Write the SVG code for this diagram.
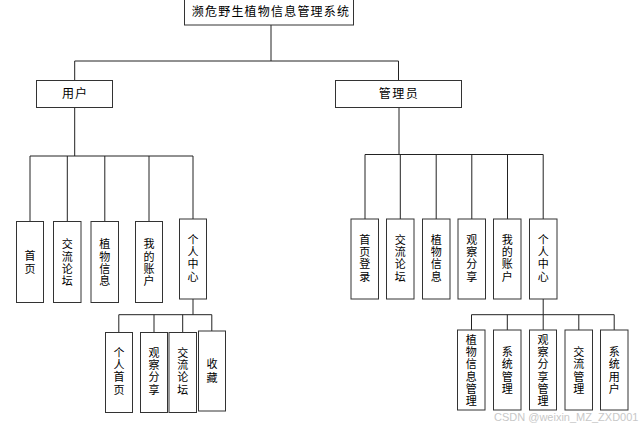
<svg xmlns="http://www.w3.org/2000/svg" width="641" height="428" viewBox="0 0 641 428">
<style>
.box{fill:#fff;stroke:#333;stroke-width:1}
.ln{fill:none;stroke:#222;stroke-width:1}
text{font-family:"Noto Sans CJK SC","Liberation Sans",sans-serif;font-size:12px;fill:#000;text-anchor:middle}
.v{font-size:11px}
.wm{fill:#c8c8c8;font-family:"Liberation Sans",sans-serif;font-size:11px;text-anchor:start}
</style>
<rect width="641" height="428" fill="#fff"/>
<g id="connectors">
<path class="ln" d="M271 25V61M74.7 61H398.5M74.7 61V80.5M398.5 61V80.5"/>
<path class="ln" d="M74.7 107.5V156M30 156H193M30 156V221.5M67.3 156V221.5M104.8 156V221.5M149 156V221.5M193 156V219"/>
<path class="ln" d="M399 107.5V154.5M365 154.5H543.2M365 154.5V219M400.3 154.5V219M436.2 154.5V219M471.8 154.5V219M507.5 154.5V219M543.2 154.5V219"/>
<path class="ln" d="M193 299V314.7M118.8 314.7H211.8M118.8 314.7V332.5M154 314.7V332.5M182.7 314.7V332.5M211.8 314.7V331"/>
<path class="ln" d="M543.2 299V314.7M471.5 314.7H614.2M471.5 314.7V330M507.3 314.7V330M543.2 314.7V330M578.8 314.7V330M614.2 314.7V330"/>
</g>
<g id="root"><rect class="box" x="184.5" y="-1" width="169" height="26"/><text x="271" y="16.2" letter-spacing="1.2" font-size="11.5">濒危野生植物信息管理系统</text></g>
<g id="user"><rect class="box" x="36.5" y="80.5" width="76" height="27"/><text x="75" y="98" letter-spacing="1">用户</text></g>
<g id="admin"><rect class="box" x="335.5" y="80.5" width="126" height="27"/><text x="399" y="98" letter-spacing="1.5">管理员</text></g>

<g id="u-home"><rect class="box" x="16.5" y="221.5" width="27" height="81"/><text class="v"><tspan x="30" y="260.3">首</tspan><tspan x="30" y="272.6">页</tspan></text></g>
<g id="u-forum"><rect class="box" x="53.5" y="221.5" width="27.5" height="81"/><text class="v"><tspan x="67.3" y="248.3">交</tspan><tspan x="67.3" y="260.6">流</tspan><tspan x="67.3" y="272.9">论</tspan><tspan x="67.3" y="285.2">坛</tspan></text></g>
<g id="u-plant"><rect class="box" x="91" y="221.5" width="27.5" height="81"/><text class="v"><tspan x="104.8" y="248.3">植</tspan><tspan x="104.8" y="260.6">物</tspan><tspan x="104.8" y="272.9">信</tspan><tspan x="104.8" y="285.2">息</tspan></text></g>
<g id="u-account"><rect class="box" x="135.5" y="221.5" width="27" height="81"/><text class="v"><tspan x="149" y="248.3">我</tspan><tspan x="149" y="260.6">的</tspan><tspan x="149" y="272.9">账</tspan><tspan x="149" y="285.2">户</tspan></text></g>
<g id="u-center"><rect class="box" x="179.5" y="219" width="27" height="80"/><text class="v"><tspan x="193" y="243.8">个</tspan><tspan x="193" y="256.1">人</tspan><tspan x="193" y="268.4">中</tspan><tspan x="193" y="280.7">心</tspan></text></g>

<g id="u-c-home"><rect class="box" x="105.5" y="332.5" width="27" height="80"/><text class="v"><tspan x="119" y="356.8">个</tspan><tspan x="119" y="369.1">人</tspan><tspan x="119" y="381.4">首</tspan><tspan x="119" y="393.7">页</tspan></text></g>
<g id="u-c-share"><rect class="box" x="140.5" y="332.5" width="27" height="80"/><text class="v"><tspan x="154" y="356.8">观</tspan><tspan x="154" y="369.1">察</tspan><tspan x="154" y="381.4">分</tspan><tspan x="154" y="393.7">享</tspan></text></g>
<g id="u-c-forum"><rect class="box" x="169" y="332.5" width="27.5" height="80"/><text class="v"><tspan x="182.7" y="356.8">交</tspan><tspan x="182.7" y="369.1">流</tspan><tspan x="182.7" y="381.4">论</tspan><tspan x="182.7" y="393.7">坛</tspan></text></g>
<g id="u-c-fav"><rect class="box" x="198.5" y="331" width="27" height="80"/><text class="v"><tspan x="212" y="368.2">收</tspan><tspan x="212" y="382">藏</tspan></text></g>

<g id="a-home"><rect class="box" x="351" y="219" width="27.5" height="80"/><text class="v"><tspan x="364.8" y="243.8">首</tspan><tspan x="364.8" y="256.1">页</tspan><tspan x="364.8" y="268.4">登</tspan><tspan x="364.8" y="280.7">录</tspan></text></g>
<g id="a-forum"><rect class="box" x="386.5" y="219" width="27.5" height="80"/><text class="v"><tspan x="400.3" y="243.8">交</tspan><tspan x="400.3" y="256.1">流</tspan><tspan x="400.3" y="268.4">论</tspan><tspan x="400.3" y="280.7">坛</tspan></text></g>
<g id="a-plant"><rect class="box" x="422.5" y="219" width="27.5" height="80"/><text class="v"><tspan x="436.2" y="243.8">植</tspan><tspan x="436.2" y="256.1">物</tspan><tspan x="436.2" y="268.4">信</tspan><tspan x="436.2" y="280.7">息</tspan></text></g>
<g id="a-share"><rect class="box" x="458" y="219" width="27.5" height="80"/><text class="v"><tspan x="471.8" y="243.8">观</tspan><tspan x="471.8" y="256.1">察</tspan><tspan x="471.8" y="268.4">分</tspan><tspan x="471.8" y="280.7">享</tspan></text></g>
<g id="a-account"><rect class="box" x="493.5" y="219" width="27.5" height="80"/><text class="v"><tspan x="507.3" y="243.8">我</tspan><tspan x="507.3" y="256.1">的</tspan><tspan x="507.3" y="268.4">账</tspan><tspan x="507.3" y="280.7">户</tspan></text></g>
<g id="a-center"><rect class="box" x="529.5" y="219" width="27.5" height="80"/><text class="v"><tspan x="543.2" y="243.8">个</tspan><tspan x="543.2" y="256.1">人</tspan><tspan x="543.2" y="268.4">中</tspan><tspan x="543.2" y="280.7">心</tspan></text></g>

<g id="a-c-plant"><rect class="box" x="457.5" y="330" width="27.5" height="80"/><text class="v"><tspan x="471.3" y="343.6">植</tspan><tspan x="471.3" y="355.9">物</tspan><tspan x="471.3" y="368.2">信</tspan><tspan x="471.3" y="380.5">息</tspan><tspan x="471.3" y="392.8">管</tspan><tspan x="471.3" y="405.1">理</tspan></text></g>
<g id="a-c-sys"><rect class="box" x="493.5" y="330" width="27.5" height="80"/><text class="v"><tspan x="507.3" y="355.9">系</tspan><tspan x="507.3" y="368.2">统</tspan><tspan x="507.3" y="380.5">管</tspan><tspan x="507.3" y="392.8">理</tspan></text></g>
<g id="a-c-share"><rect class="box" x="529.5" y="330" width="27" height="80"/><text class="v"><tspan x="543" y="343.6">观</tspan><tspan x="543" y="355.9">察</tspan><tspan x="543" y="368.2">分</tspan><tspan x="543" y="380.5">享</tspan><tspan x="543" y="392.8">管</tspan><tspan x="543" y="405.1">理</tspan></text></g>
<g id="a-c-forum"><rect class="box" x="565" y="330" width="27.5" height="80"/><text class="v"><tspan x="578.8" y="355.9">交</tspan><tspan x="578.8" y="368.2">流</tspan><tspan x="578.8" y="380.5">管</tspan><tspan x="578.8" y="392.8">理</tspan></text></g>
<g id="a-c-users"><rect class="box" x="600.5" y="330" width="27.5" height="80"/><text class="v"><tspan x="614.3" y="355.9">系</tspan><tspan x="614.3" y="368.2">统</tspan><tspan x="614.3" y="380.5">用</tspan><tspan x="614.3" y="392.8">户</tspan></text></g>

<text class="wm" x="494" y="420.5">CSDN @weixin_MZ_ZXD001</text>
</svg>
